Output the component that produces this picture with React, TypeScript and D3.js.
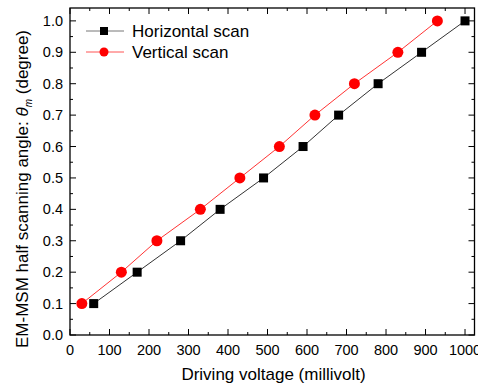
import React from "react";
import * as d3 from "d3";

const yLevels = [0.1, 0.2, 0.3, 0.4, 0.5, 0.6, 0.7, 0.8, 0.9, 1.0];
const horizontalX = [60, 170, 280, 380, 490, 590, 680, 780, 890, 1000];
const verticalX = [30, 130, 220, 330, 430, 530, 620, 720, 830, 930];
const xTicks = [0, 100, 200, 300, 400, 500, 600, 700, 800, 900, 1000];
const yTicks = [0, 0.1, 0.2, 0.3, 0.4, 0.5, 0.6, 0.7, 0.8, 0.9, 1.0];
const seriesNames = ["Horizontal scan", "Vertical scan"];

const W = 478, H = 386;
const L = 70, R = 474.5, T = 8, B = 335;

export default function App() {
  const x = d3.scaleLinear().domain([0, 1024]).range([L, R]);
  const y = d3.scaleLinear().domain([0, 1.041]).range([B, T]);
  const line = d3.line<[number, number]>().x(d => x(d[0])).y(d => y(d[1]));
  const hData: [number, number][] = horizontalX.map((v, i) => [v, yLevels[i]]);
  const vData: [number, number][] = verticalX.map((v, i) => [v, yLevels[i]]);
  const xMinor = d3.range(50, 1024, 100);
  const yMinor = d3.range(0.05, 1.04, 0.1);
  const font = "'Liberation Sans', Arial, sans-serif";
  return (
    <svg width={W} height={H} style={{ position: "absolute", left: 0, top: 0 }} fontFamily={font}>
      <rect width={W} height={H} fill="white" />
      <path d={line(hData) || ""} fill="none" stroke="#333" strokeWidth={1} />
      <path d={line(vData) || ""} fill="none" stroke="#f33" strokeWidth={1} />
      {hData.map((d, i) => (
        <rect key={"h" + i} x={x(d[0]) - 4.5} y={y(d[1]) - 4.5} width={9} height={9} fill="black" />
      ))}
      {vData.map((d, i) => (
        <circle key={"v" + i} cx={x(d[0])} cy={y(d[1])} r={5.5} fill="#ff0000" />
      ))}
      {/* frame */}
      <rect x={L} y={T} width={R - L} height={B - T} fill="none" stroke="black" strokeWidth={1.3} />
      {xTicks.map(t => (
        <g key={"xt" + t}>
          <line x1={x(t)} x2={x(t)} y1={B} y2={B - 6} stroke="black" />
          <line x1={x(t)} x2={x(t)} y1={T} y2={T + 6} stroke="black" />
          <text x={x(t)} y={B + 20} textAnchor="middle" fontSize={14.5}>{t}</text>
        </g>
      ))}
      {xMinor.map(t => (
        <g key={"xm" + t}>
          <line x1={x(t)} x2={x(t)} y1={B} y2={B - 3} stroke="black" />
          <line x1={x(t)} x2={x(t)} y1={T} y2={T + 3} stroke="black" />
        </g>
      ))}
      {yTicks.map(t => (
        <g key={"yt" + t}>
          <line x1={L} x2={L + 6} y1={y(t)} y2={y(t)} stroke="black" />
          <line x1={R} x2={R - 6} y1={y(t)} y2={y(t)} stroke="black" />
          <text x={L - 7} y={y(t) + 5} textAnchor="end" fontSize={14.5}>{t.toFixed(1)}</text>
        </g>
      ))}
      {yMinor.map(t => (
        <g key={"ym" + t}>
          <line x1={L} x2={L + 3} y1={y(t)} y2={y(t)} stroke="black" />
          <line x1={R} x2={R - 3} y1={y(t)} y2={y(t)} stroke="black" />
        </g>
      ))}
      <text x={(177 + 370) / 2} y={380} textAnchor="middle" fontSize={17}>Driving voltage (millivolt)</text>
      <text transform={`translate(27.5, ${189}) rotate(-90)`} textAnchor="middle" fontSize={17}>
        EM-MSM half scanning angle: <tspan fontStyle="italic">θ</tspan>
        <tspan fontStyle="italic" fontSize={10} dy={4}>m</tspan>
        <tspan dy={-4}> (degree)</tspan>
      </text>
      {/* legend */}
      <g>
        <line x1={86} x2={124} y1={31} y2={31} stroke="#777" strokeWidth={1} />
        <rect x={104 - 4} y={31 - 4} width={8} height={8} fill="black" />
        <text x={132} y={37} fontSize={17}>{seriesNames[0]}</text>
        <line x1={86} x2={124} y1={52} y2={52} stroke="#f55" strokeWidth={1} />
        <circle cx={104} cy={52} r={4.5} fill="#ff0000" />
        <text x={132} y={58} fontSize={17}>{seriesNames[1]}</text>
      </g>
    </svg>
  );
}
